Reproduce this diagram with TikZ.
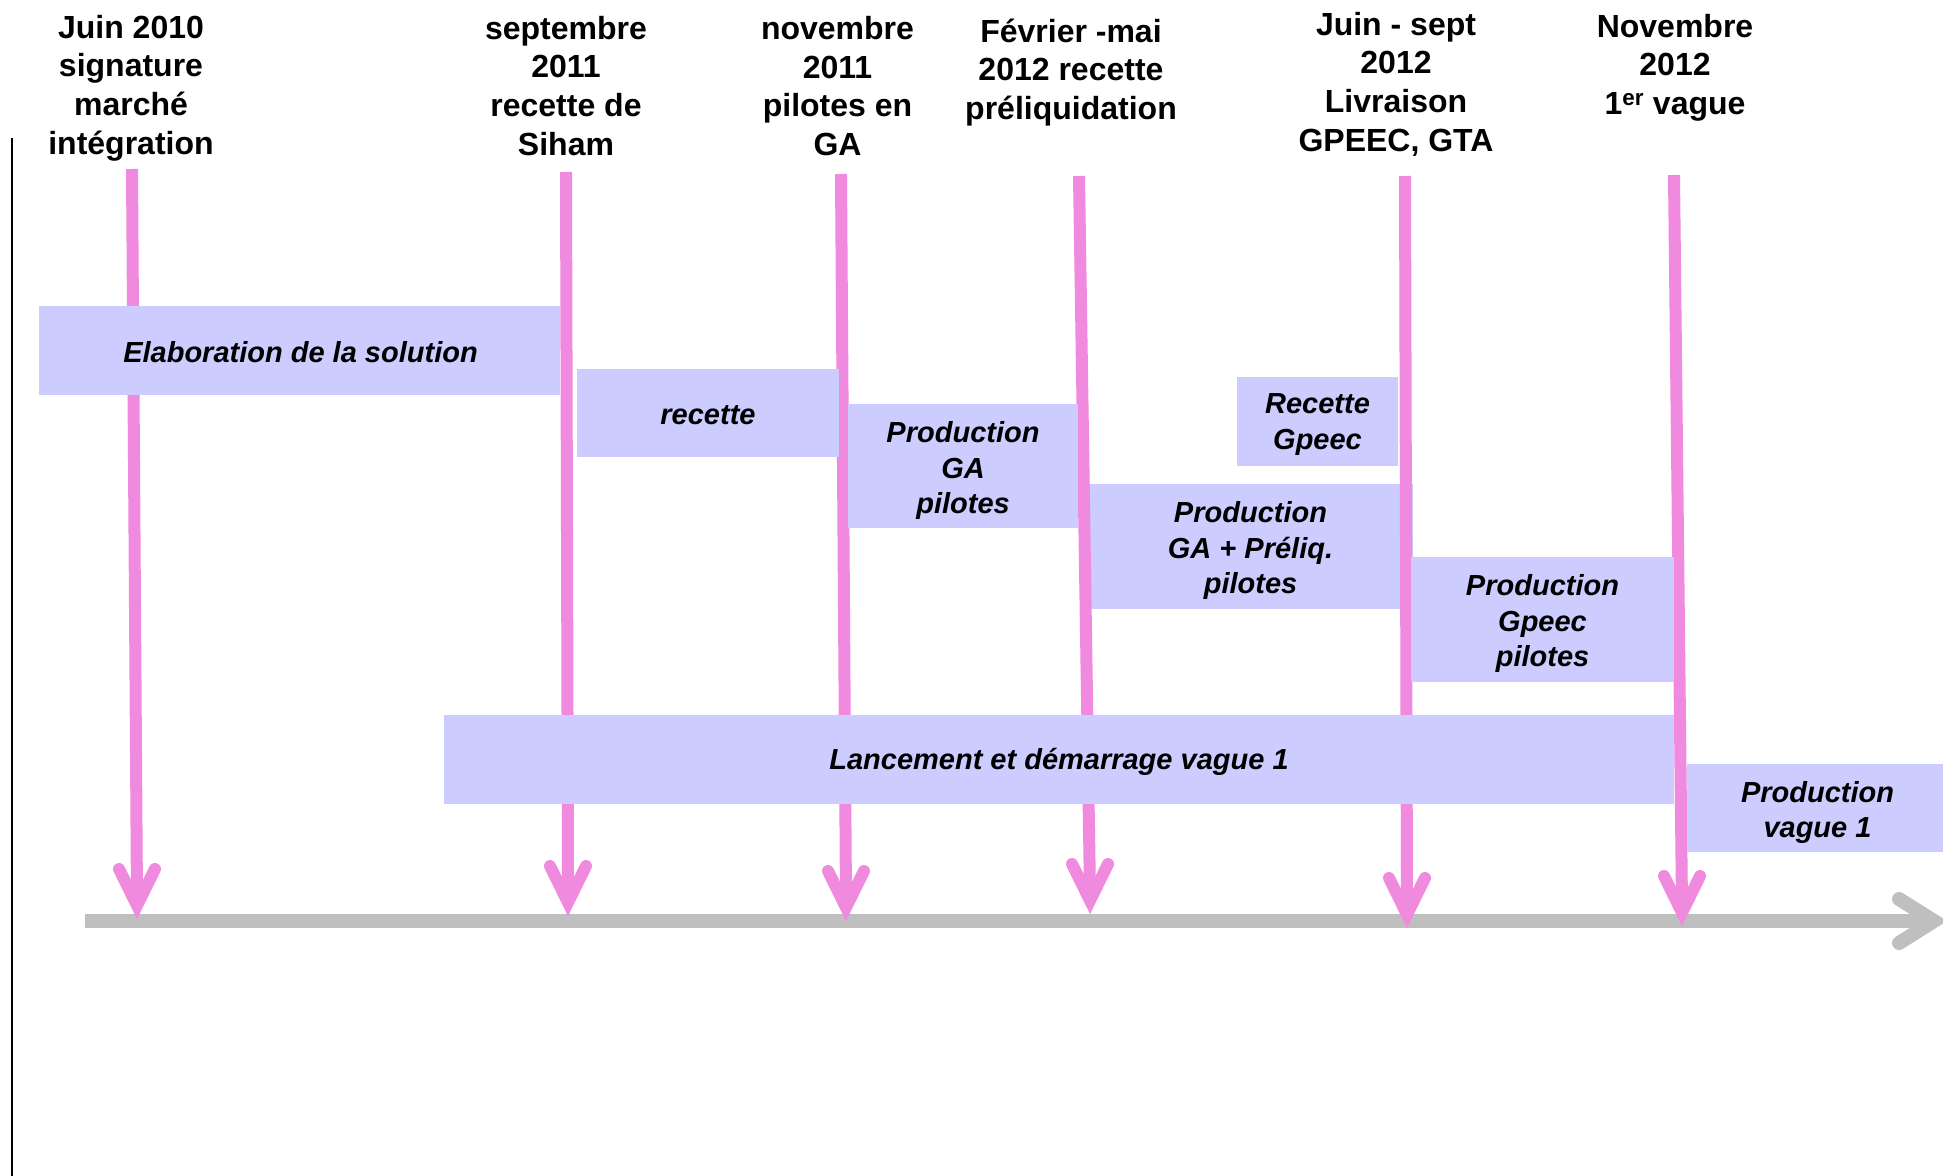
\documentclass[tikz,border=0pt]{standalone}
\usepackage{fontspec}
\setmainfont{Liberation Sans}
\usetikzlibrary{calc}
\definecolor{mkpink}{HTML}{F08ADF}
\definecolor{boxfill}{HTML}{CCCCFF}
\definecolor{axisgray}{HTML}{BFBFBF}
\newcommand\milearrow[2]{%
  \draw[mk] (#1) -- ($(#2)+(0,-20)$);
  \draw[mkhead] ($(#2)+(-18,-50)$) -- ($(#2)+(0,-13.5)$) -- ($(#2)+(18,-50)$);}
\begin{document}
\begin{tikzpicture}[x=1pt,y=-1pt,
  mk/.style={draw=mkpink, line width=12pt},
  mkhead/.style={draw=mkpink, line width=12pt, line cap=round, line join=miter, miter limit=20},
  phase/.style={fill=boxfill, inner sep=0pt},
  phasetext/.style={inner sep=0pt, align=center, font=\bfseries\itshape\fontsize{29}{35.5}\selectfont},
  milestone/.style={anchor=north, inner sep=0pt, align=center, font=\bfseries\fontsize{32}{38.7}\selectfont}]
\useasboundingbox (0,0) rectangle (1943,1175);
% left black rule
\coordinate (lt) at (11.5,138);
\coordinate (lb) at (11.5,1180);
\draw[line width=2pt] (lt) -- (lb);
% time axis
\coordinate (a0) at (85,921);
\coordinate (a1) at (1932,921);
\draw[axisgray, line width=14pt] (a0) -- (a1);
\draw[axisgray, line width=14pt, line cap=round, line join=miter, miter limit=20]
  ($(a1)+(-33,-22)$) -- ($(a1)+(2,0)$) -- ($(a1)+(-33,22)$);
% box drawn under the arrows
\node[phase, minimum width=325pt, minimum height=125pt] (pgpre) at (1250.5,546.5) {};
% milestone arrows
\coordinate (t1) at (132,169);  \coordinate (b1) at (137,919);
\coordinate (t2) at (566,172);  \coordinate (b2) at (568,916);
\coordinate (t3) at (841,174);  \coordinate (b3) at (846,921);
\coordinate (t4) at (1079,176); \coordinate (b4) at (1090,914);
\coordinate (t5) at (1405,176); \coordinate (b5) at (1407,928);
\coordinate (t6) at (1674,175); \coordinate (b6) at (1682,926);
\milearrow{t1}{b1}
\milearrow{t2}{b2}
\milearrow{t3}{b3}
\milearrow{t4}{b4}
\milearrow{t5}{b5}
\milearrow{t6}{b6}
% phase boxes
\node[phase, minimum width=521pt, minimum height=89pt] (elab) at (299.5,350.5) {};
\node[phase, minimum width=262pt, minimum height=88pt] (rec) at (708,413) {};
\node[phase, minimum width=230pt, minimum height=124pt] (pga) at (963,466) {};
\node[phase, minimum width=161pt, minimum height=89pt] (rgp) at (1317.5,421.5) {};
\node[phase, minimum width=263pt, minimum height=125pt] (pgpe) at (1542.5,619.5) {};
\node[phase, minimum width=1230pt, minimum height=89pt] (lanc) at (1059,759.5) {};
\node[phase, minimum width=261pt, minimum height=88pt] (pv1) at (1817.5,808) {};
% phase texts
\node[phasetext] (pgpre-t) at ($(pgpre.center)+(0,4)$) {Production\\GA + Préliq.\\pilotes};
\node[phasetext] (elab-t) at ($(elab.center)+(1,1.5)$) {Elaboration de la solution};
\node[phasetext] (rec-t) at ($(rec.center)+(0,2.5)$) {recette};
\node[phasetext] (pga-t) at ($(pga.center)+(0,4.5)$) {Production\\GA\\pilotes};
\node[phasetext] (rgp-t) at ($(rgp.center)+(0,3)$) {Recette\\Gpeec};
\node[phasetext] (pgpe-t) at ($(pgpe.center)+(0,4)$) {Production\\Gpeec\\pilotes};
\node[phasetext] (lanc-t) at ($(lanc.center)+(0,2.5)$) {Lancement et démarrage vague 1};
\node[phasetext] (pv1-t) at ($(pv1.center)+(0,4.5)$) {Production\\vague 1};
% milestone titles
\node[milestone] (m1) at (131,11) {\strut Juin 2010\\signature\\marché\\intégration};
\node[milestone] (m2) at (566,12) {\strut septembre\\2011\\recette de\\Siham};
\node[milestone] (m3) at (837.5,12.3) {\strut novembre\\2011\\pilotes en\\GA};
\node[milestone] (m4) at (1071,15) {\strut Février -mai\\2012 recette\\préliquidation};
\node[milestone] (m5) at (1396,8) {\strut Juin - sept\\2012\\Livraison\\GPEEC, GTA};
\node[milestone] (m6) at (1675,10) {\strut Novembre\\2012\\1\textsuperscript{er} vague};
\end{tikzpicture}
\end{document}
